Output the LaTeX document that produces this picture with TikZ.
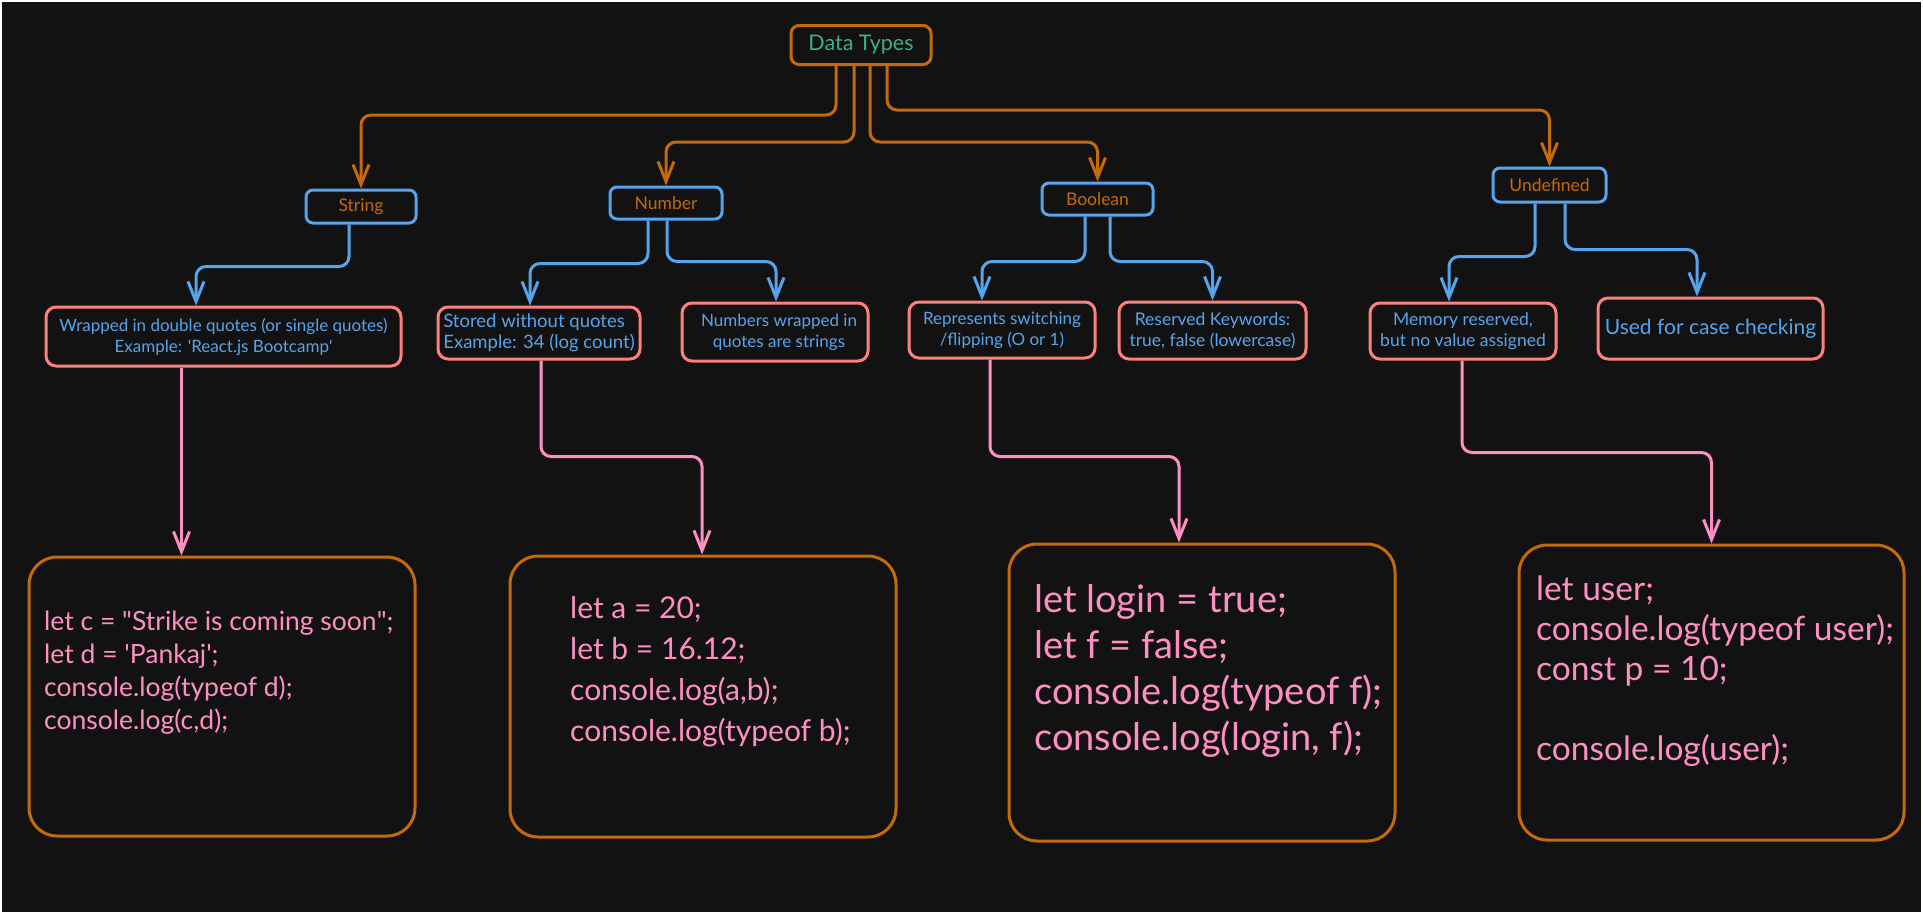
\documentclass[tikz,border=0pt]{standalone}
\usepackage{fontspec}
\setmainfont{Lato}
\usetikzlibrary{arrows.meta}
\definecolor{bg}{HTML}{121212}
\definecolor{org}{HTML}{C46A0A}
\definecolor{blu}{HTML}{56A5EC}
\definecolor{sal}{HTML}{FF7F7F}
\definecolor{pnk}{HTML}{FF8FC3}
\definecolor{grn}{HTML}{3BAF85}
\begin{document}
\begin{tikzpicture}[x=1pt,y=-1pt,
  tbox/.style={draw=blu, line width=3pt, rounded corners=7pt, fill=bg, text=org, font=\fontsize{17.5}{20}\selectfont, inner sep=0pt},
  dbox/.style={draw=sal, line width=3pt, rounded corners=10pt, fill=bg, text=blu, align=center, inner sep=0pt, font=\fontsize{17}{21}\selectfont},
  cbox/.style={draw=org, line width=3pt, rounded corners=28pt, fill=bg, inner sep=0pt},
  ctext/.style={anchor=north west, inner sep=0pt, align=left, text=pnk},
  tipb/.style={-{Straight Barb[length=20pt,width=16pt]}},
  oconn/.style={draw=org, line width=3pt, rounded corners=10pt, tipb},
  bconn/.style={draw=blu, line width=3pt, rounded corners=10pt, tipb},
  pconn/.style={draw=pnk, line width=3pt, rounded corners=10pt, tipb}]
\useasboundingbox (0,0) rectangle (1923,914);
\fill[white] (0,0) rectangle (1923,914);
\fill[bg] (2,2) rectangle (1921,912);

% root
\node[draw=org, line width=3pt, rounded corners=8pt, fill=bg, text=grn, inner sep=0pt,
  minimum width=140pt, minimum height=39pt, font=\fontsize{21.5}{24}\selectfont] (dt) at (861,45) {Data Types};

% level 1
\node[tbox, minimum width=110pt, minimum height=33pt] (str) at (361,206.5) {String};
\node[tbox, minimum width=112pt, minimum height=32pt] (num) at (666,203) {Number};
\node[tbox, minimum width=111pt, minimum height=32pt] (bool) at (1097.5,199) {Boolean};
\node[tbox, minimum width=113pt, minimum height=34pt] (undef) at (1549.5,185) {Undefined};

% level 2
\node[dbox, minimum width=355pt, minimum height=59pt] (wrap) at (223.5,336.5)
  {Wrapped in double quotes (or single quotes)\\Example: \textquotesingle React.js Bootcamp\textquotesingle};
\node[dbox, align=left, minimum width=202pt, minimum height=52pt, font=\fontsize{18.5}{21}\selectfont] (stored) at (539,333)
  {Stored without quotes\\Example: 34 (log count)};
\node[dbox, minimum width=186pt, minimum height=58pt] (numstr) at (775,332)
  {\hspace*{8pt}Numbers wrapped in\\\hspace*{8pt}quotes are strings};
\node[dbox, minimum width=186pt, minimum height=56pt] (repr) at (1002,330)
  {Represents switching\\/flipping (O or 1)};
\node[dbox, minimum width=187pt, minimum height=57pt, font=\fontsize{17.5}{21}\selectfont] (resv) at (1212.5,330.5)
  {Reserved Keywords:\\true, false (lowercase)};
\node[dbox, minimum width=186pt, minimum height=56pt, font=\fontsize{17.5}{21}\selectfont] (mem) at (1463,331)
  {Memory reserved,\\but no value assigned};
\node[dbox, minimum width=225pt, minimum height=61pt, font=\fontsize{21}{25}\selectfont] (used) at (1710.5,328.5)
  {Used for case checking};

% code boxes
\node[cbox, minimum width=386pt, minimum height=279pt] (c1) at (222,696.5) {};
\node[cbox, minimum width=386pt, minimum height=281pt] (c2) at (703,696.5) {};
\node[cbox, minimum width=386pt, minimum height=297pt] (c3) at (1202,692.5) {};
\node[cbox, minimum width=385pt, minimum height=295pt] (c4) at (1711.5,692.5) {};

\node[ctext, font=\fontsize{26.5}{33}\selectfont] (t1) at (44,611)
  {let c = \textquotedbl Strike is coming soon\textquotedbl;\\let d = \textquotesingle Pankaj\textquotesingle;\\console.log(typeof d);\\console.log(c,d);};
\node[ctext, font=\fontsize{30}{41}\selectfont] (t2) at (570,596)
  {let a = 20;\\let b = 16.12;\\console.log(a,b);\\console.log(typeof b);};
\node[ctext, font=\fontsize{38}{46}\selectfont] (t3) at (1034,584)
  {let login = true;\\let f = false;\\console.log(typeof f);\\console.log(login, f);};
\node[ctext, font=\fontsize{33.5}{40}\selectfont] (t4) at (1536,576)
  {let user;\\console.log(typeof user);\\const p = 10;\\[40pt]console.log(user);};

% orange connectors
\draw[oconn] ([xshift=-25pt]dt.south) -- ++(0,49) -| (str.north);
\draw[oconn] ([xshift=-7pt]dt.south) -- ++(0,76) -| (num.north);
\draw[oconn] ([xshift=9pt]dt.south) -- ++(0,76) -| (bool.north);
\draw[oconn] ([xshift=26pt]dt.south) -- ++(0,44) -| (undef.north);

% blue connectors
\draw[bconn] ([xshift=-12pt]str.south) -- ++(0,42) -| ([xshift=-27.5pt]wrap.north);
\draw[bconn] ([xshift=-18pt]num.south) -- ++(0,43) -| ([xshift=-9pt]stored.north);
\draw[bconn] ([xshift=1pt]num.south) -- ++(0,41) -| ([xshift=1pt]numstr.north);
\draw[bconn] ([xshift=-12.5pt]bool.south) -- ++(0,45) -| ([xshift=-20pt]repr.north);
\draw[bconn] ([xshift=12.5pt]bool.south) -- ++(0,45) -| (resv.north);
\draw[bconn] ([xshift=-14.5pt]undef.south) -- ++(0,53) -| ([xshift=-14pt]mem.north);
\draw[bconn] ([xshift=15.5pt]undef.south) -- ++(0,46) -| ([xshift=-13.5pt]used.north);

% pink connectors
\coordinate (p1) at ([xshift=-42pt]wrap.south);
\draw[pconn] (p1) -- (p1 |- c1.north);
\draw[pconn] ([xshift=2pt]stored.south) -- ++(0,96) -| ([xshift=-1pt]c2.north);
\draw[pconn] ([xshift=-12pt]repr.south) -- ++(0,97) -| ([xshift=-23pt]c3.north);
\draw[pconn] ([xshift=-1pt]mem.south) -- ++(0,92) -| (c4.north);
\end{tikzpicture}
\end{document}
